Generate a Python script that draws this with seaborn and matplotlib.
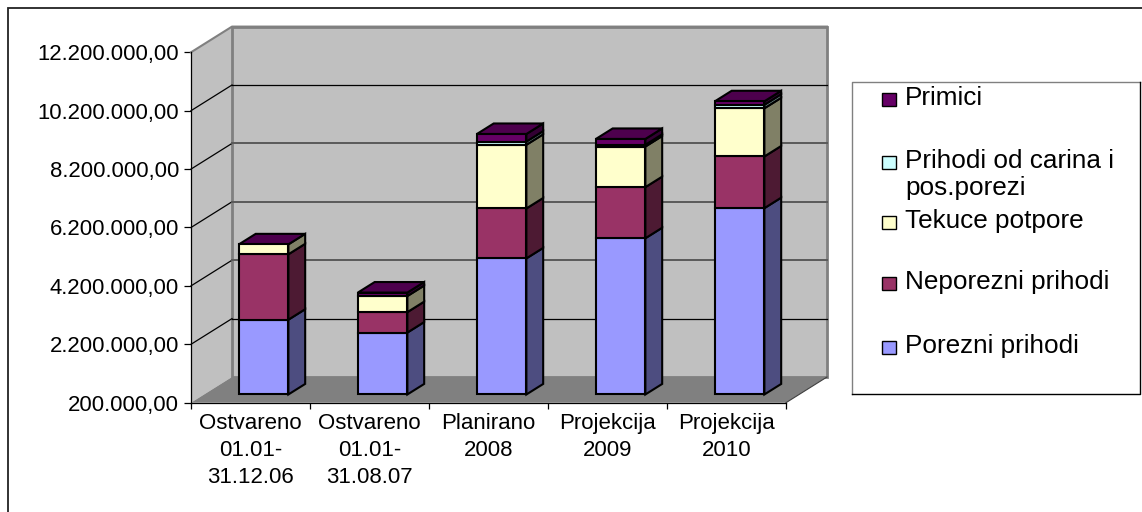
import numpy as np
import pandas as pd
import matplotlib
matplotlib.use("Agg")
import matplotlib.pyplot as plt
from matplotlib.patches import Polygon, Rectangle
import seaborn as sns

categories = ["Ostvareno\n01.01-\n31.12.06", "Ostvareno\n01.01-\n31.08.07", "Planirano\n2008", "Projekcija\n2009", "Projekcija\n2010"]
porezni = [2560000, 2120000, 4660000, 5350000, 6380000]
neporezni = [2240000, 700000, 1710000, 1750000, 1770000]
tekuce = [340000, 550000, 2180000, 1390000, 1650000]
carine = [0, 0, 110000, 60000, 120000]
primici = [0, 120000, 260000, 200000, 120000]

series_names = ["Porezni prihodi", "Neporezni prihodi", "Tekuce potpore", "Prihodi od carina i\npos.porezi", "Primici"]
series_colors = ["#9999FF", "#993366", "#FFFFCC", "#CCFFFF", "#660066"]
side_colors = ["#4D4D80", "#4D1A33", "#808066", "#668080", "#330033"]
top_color = "#4D004D"

y_ticks = [200000, 2200000, 4200000, 6200000, 8200000, 10200000, 12200000]
y_labels = ["200.000,00", "2.200.000,00", "4.200.000,00", "6.200.000,00", "8.200.000,00", "10.200.000,00", "12.200.000,00"]

W, H = 1142, 512
plt.rcParams["font.family"] = "Liberation Sans"

# depth of the fake 3d box, in data units (41 px and 25.7 px on the image)
depth_x = 41 / 119
depth_y = 25.7 / 58.4 * 2000000
bar_start = 0.32
bar_depth = 0.41
bar_width = 49.5 / 119

fig = plt.figure(figsize=(W / 100, H / 100), dpi=100, facecolor="white")
ax = fig.add_axes([191 / W, 1 - 402.7 / H, 595 / W, 350.4 / H])
ax.patch.set_alpha(0)

stack = pd.DataFrame({"cat": categories, "Porezni": porezni, "Neporezni": neporezni,
                      "Tekuce": tekuce, "Carine": carine, "Primici": primici})
cols = ["Porezni", "Neporezni", "Tekuce", "Carine", "Primici"]
bottoms = stack[cols].cumsum(axis=1).shift(1, axis=1).fillna(0) + y_ticks[0]

z = 5
for k, col in enumerate(cols):
    before = len(ax.patches)
    sns.barplot(data=stack, x="cat", y=col, bottom=bottoms[col].values, width=bar_width,
                color=series_colors[k], saturation=1, edgecolor="black", linewidth=1.5,
                errorbar=None, ax=ax, zorder=z + 1)
    for p in ax.patches[before:]:
        if p.get_height() == 0:
            p.set_visible(False)
            continue
        p.set_x(p.get_x() + bar_start * depth_x)
        p.set_y(p.get_y() + bar_start * depth_y)
        p.set_clip_on(False)
        x1 = p.get_x() + p.get_width()
        y0, y1 = p.get_y(), p.get_y() + p.get_height()
        dx, dy = bar_depth * depth_x, bar_depth * depth_y
        ax.add_patch(Polygon([(x1, y0), (x1 + dx, y0 + dy), (x1 + dx, y1 + dy), (x1, y1)], closed=True,
                             facecolor=side_colors[k], edgecolor="black", linewidth=1.5, zorder=z, clip_on=False))

# top faces sit on the full stack
totals = bottoms["Primici"].values + np.array(primici)
for i, t in enumerate(totals):
    x0 = i - bar_width / 2 + bar_start * depth_x
    y0 = t + bar_start * depth_y
    dx, dy = bar_depth * depth_x, bar_depth * depth_y
    ax.add_patch(Polygon([(x0, y0), (x0 + bar_width, y0), (x0 + bar_width + dx, y0 + dy), (x0 + dx, y0 + dy)],
                         closed=True, facecolor=top_color, edgecolor="black", linewidth=1.5, zorder=z, clip_on=False))

ax.set_xlim(-0.5, 4.5)
ax.set_ylim(y_ticks[0], y_ticks[-1])
xl, xr = -0.5, 4.5
yb, yt = y_ticks[0], y_ticks[-1]

# walls and floor
ax.add_patch(Polygon([(xl, yb), (xl + depth_x, yb + depth_y), (xl + depth_x, yt + depth_y), (xl, yt)], closed=True,
                     facecolor="#C0C0C0", edgecolor="none", zorder=1, clip_on=False))
ax.add_patch(Polygon([(xl + depth_x, yb + depth_y), (xr + depth_x, yb + depth_y), (xr + depth_x, yt + depth_y), (xl + depth_x, yt + depth_y)],
                     closed=True, facecolor="#C0C0C0", edgecolor="#808080", linewidth=2, zorder=1, clip_on=False))
ax.add_patch(Polygon([(xl, yb), (xr, yb), (xr + depth_x, yb + depth_y), (xl + depth_x, yb + depth_y)], closed=True,
                     facecolor="#808080", edgecolor="none", zorder=2, clip_on=False))
ax.plot([xl, xl + depth_x, xr + depth_x], [yt, yt + depth_y, yt + depth_y], color="#808080", lw=1.5, zorder=2, clip_on=False)
ax.plot([xr, xr + depth_x], [yb, yb + depth_y], color="#404040", lw=0.8, zorder=3, clip_on=False)

# the middle gridlines look heavier and grey on the back wall
for v in y_ticks[1:-1]:
    ax.plot([xl, xl + depth_x], [v, v + depth_y], color="black", lw=0.9, zorder=3, clip_on=False)
    if v in (2200000, 10200000):
        ax.plot([xl + depth_x, xr + depth_x], [v + depth_y, v + depth_y], color="black", lw=0.9, zorder=3, clip_on=False)
    else:
        ax.plot([xl + depth_x, xr + depth_x], [v + depth_y, v + depth_y], color="#5A5A5A", lw=1.4, zorder=3, clip_on=False)

ax.set_xlabel("")
ax.set_ylabel("")
sns.despine(ax=ax, top=True, right=True)
ax.spines["left"].set_linewidth(0.9)
ax.spines["bottom"].set_linewidth(0.9)
ax.spines["left"].set_zorder(4)
ax.spines["bottom"].set_zorder(4)
ax.set_yticks(y_ticks)
ax.set_yticklabels(y_labels, fontsize=15.9)
ax.tick_params(axis="y", length=5, width=0.9, pad=3.5)
ax.set_xticks(np.arange(-0.5, 5, 1))
ax.set_xticklabels([])
ax.tick_params(axis="x", which="major", length=4.5, width=0.9)
ax.set_xticks(np.arange(5), minor=True)
ax.set_xticklabels(categories, minor=True, fontsize=16, linespacing=1.37)
ax.tick_params(axis="x", which="minor", length=0, pad=7.5)

# outer frame and the legend box, in image pixels
over = fig.add_axes([0, 0, 1, 1], facecolor="none", zorder=-1)
over.set_xlim(0, W)
over.set_ylim(H, 0)
over.axis("off")
over.plot([8, 8, W], [H, 7.5, 7.5], color="#222222", lw=1.3, solid_joinstyle="miter")
over.add_patch(Rectangle((852, 82), 287.5, 312, facecolor="white", edgecolor="none"))
over.plot([852, 852, 1139.5], [394, 82, 82], color="#808080", lw=1)
over.plot([852, 1139.5, 1139.5], [394, 394, 82], color="black", lw=1)

leg_y = [99, 162, 222, 283, 347]
for y, name, c in zip(leg_y, series_names[::-1], series_colors[::-1]):
    over.add_patch(Rectangle((882, y - 6), 14, 13, facecolor=c, edgecolor="black", linewidth=1))
    over.text(905, y - 13, name, fontsize=18.8, va="top", ha="left", linespacing=1.15, color="black")

fig.savefig("out.png", dpi=100)
